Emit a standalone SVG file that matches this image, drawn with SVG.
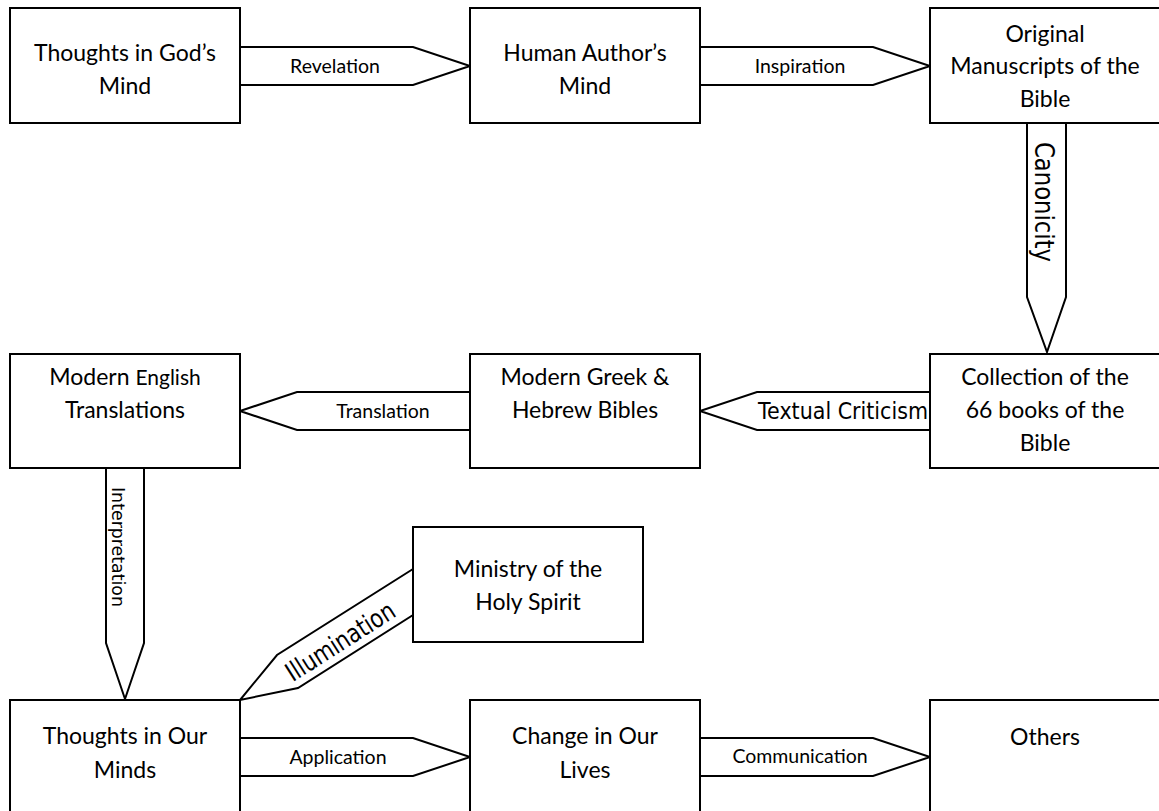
<svg xmlns="http://www.w3.org/2000/svg" width="1159" height="811" viewBox="0 0 1159 811">
<style>
.box{fill:#fff;stroke:#000;stroke-width:2}
.arr{fill:#fff;stroke:#000;stroke-width:2;stroke-linejoin:miter}
.t{font-family:Lato,"Liberation Sans",sans-serif;font-size:23px;text-anchor:middle;fill:#000}
.l{font-family:Lato,"Liberation Sans",sans-serif;font-size:19.5px;text-anchor:middle;fill:#000}
.c{font-family:"DejaVu Sans",sans-serif;text-anchor:middle;fill:#000}
</style>
<rect width="1159" height="811" fill="#fff"/>
<g id="connectors">
  <g id="revelation">
    <polygon class="arr" points="240,47 413,47 470,66 413,85 240,85"/>
    <text class="l" x="335" y="73">Revelation</text>
  </g>
  <g id="inspiration">
    <polygon class="arr" points="700,47 873,47 930,66 873,85 700,85"/>
    <text class="l" x="800" y="73">Inspiration</text>
  </g>
  <g id="canonicity">
    <polygon class="arr" points="1027,123 1066,123 1066,297 1047,352 1027,297"/>
    <text class="c" font-size="27" textLength="120" lengthAdjust="spacingAndGlyphs" transform="translate(1035,202) rotate(90)" x="0" y="0">Canonicity</text>
  </g>
  <g id="textual-criticism">
    <polygon class="arr" points="930,392 757,392 700,411 757,430 930,430"/>
    <text class="c" font-size="23" textLength="170" lengthAdjust="spacingAndGlyphs" x="843" y="419">Textual Criticism</text>
  </g>
  <g id="translation">
    <polygon class="arr" points="470,392 297,392 240,411 297,430 470,430"/>
    <text class="l" x="383" y="418">Translation</text>
  </g>
  <g id="interpretation">
    <polygon class="arr" points="106,468 144,468 144,643 125,699 106,643"/>
    <text class="c" font-size="17.5" textLength="120" lengthAdjust="spacingAndGlyphs" transform="translate(112,547) rotate(90)" x="0" y="0">Interpretation</text>
  </g>
  <g id="illumination">
    <polygon class="arr" points="413,569 277,655 240,700 298,688 413,615"/>
    <text class="c" font-size="26" textLength="124" lengthAdjust="spacingAndGlyphs" transform="translate(340,641) rotate(-32.5)" x="0" y="9.5">Illumination</text>
  </g>
  <g id="application">
    <polygon class="arr" points="240,738 413,738 470,757 413,776 240,776"/>
    <text class="l" x="338" y="764">Application</text>
  </g>
  <g id="communication">
    <polygon class="arr" points="700,738 873,738 930,757 873,776 700,776"/>
    <text class="l" font-size="18" x="800" y="763">Communication</text>
  </g>
</g>
<g id="node-gods-mind">
  <rect class="box" x="10" y="8" width="230" height="115"/>
  <text class="t" x="125" y="61">Thoughts in God’s</text>
  <text class="t" x="125" y="94">Mind</text>
</g>
<g id="node-human-author">
  <rect class="box" x="470" y="8" width="230" height="115"/>
  <text class="t" x="585" y="61">Human Author’s</text>
  <text class="t" x="585" y="94">Mind</text>
</g>
<g id="node-original-manuscripts">
  <rect class="box" x="930" y="8" width="230" height="115"/>
  <text class="t" x="1045" y="42">Original</text>
  <text class="t" x="1045" y="74">Manuscripts of the</text>
  <text class="t" x="1045" y="107">Bible</text>
</g>
<g id="node-collection">
  <rect class="box" x="930" y="354" width="230" height="114"/>
  <text class="t" x="1045" y="385">Collection of the</text>
  <text class="t" x="1045" y="418">66 books of the</text>
  <text class="t" x="1045" y="451">Bible</text>
</g>
<g id="node-greek-hebrew">
  <rect class="box" x="470" y="354" width="230" height="114"/>
  <text class="t" x="585" y="385">Modern Greek &amp;</text>
  <text class="t" x="585" y="418">Hebrew Bibles</text>
</g>
<g id="node-english">
  <rect class="box" x="10" y="354" width="230" height="114"/>
  <text class="t" x="125" y="385">Modern <tspan font-size="21">English</tspan></text>
  <text class="t" x="125" y="418">Translations</text>
</g>
<g id="node-holy-spirit">
  <rect class="box" x="413" y="527" width="230" height="115"/>
  <text class="t" x="528" y="577">Ministry of the</text>
  <text class="t" x="528" y="610">Holy Spirit</text>
</g>
<g id="node-our-minds">
  <rect class="box" x="10" y="700" width="230" height="115"/>
  <text class="t" x="125" y="744">Thoughts in Our</text>
  <text class="t" x="125" y="778">Minds</text>
</g>
<g id="node-our-lives">
  <rect class="box" x="470" y="700" width="230" height="115"/>
  <text class="t" x="585" y="744">Change in Our</text>
  <text class="t" x="585" y="778">Lives</text>
</g>
<g id="node-others">
  <rect class="box" x="930" y="700" width="230" height="115"/>
  <text class="t" x="1045" y="745">Others</text>
</g>
</svg>
